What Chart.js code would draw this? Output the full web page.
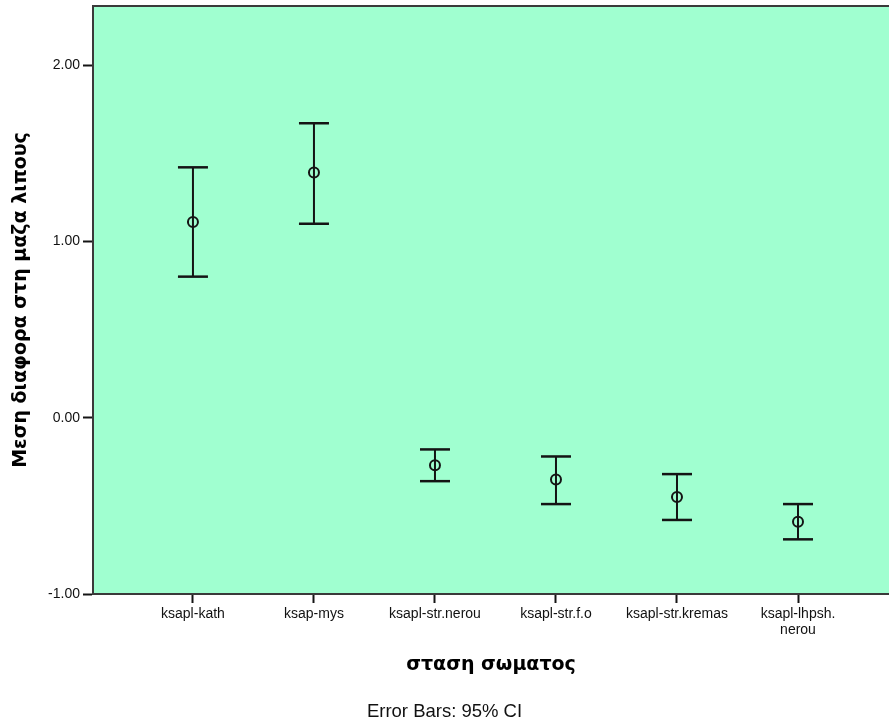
<!DOCTYPE html>
<html>
<head>
<meta charset="utf-8">
<script src="https://cdn.jsdelivr.net/npm/chart.js@4.4.0/dist/chart.umd.min.js"></script>
<style>
  html, body { margin: 0; padding: 0; background: #ffffff; }
  #wrap { width: 889px; height: 724px; }
</style>
</head>
<body>
<div id="wrap"><canvas id="c" width="889" height="724"></canvas></div>
<script>
// Body posture groups (last label wraps onto two lines)
const categories = [
  'ksapl-kath',
  'ksap-mys',
  'ksapl-str.nerou',
  'ksapl-str.f.o',
  'ksapl-str.kremas',
  ['ksapl-lhpsh.', 'nerou']
];
// Mean difference in fat mass and its 95% confidence interval
const means   = [1.11, 1.39, -0.27, -0.35, -0.45, -0.59];
const lowerCI = [0.80, 1.10, -0.36, -0.49, -0.58, -0.69];
const upperCI = [1.42, 1.67, -0.18, -0.22, -0.32, -0.49];
const yTickValues = [-1, 0, 1, 2];

const xPositions = categories.map((_, i) => i + 1);

// Vertical whiskers: low -> high, separated by gaps
const whiskerPoints = [];
xPositions.forEach((x, i) => {
  whiskerPoints.push({ x, y: lowerCI[i] }, { x, y: upperCI[i] }, { x, y: null });
});
const capPoints = [];
xPositions.forEach((x, i) => {
  capPoints.push({ x, y: lowerCI[i] }, { x, y: upperCI[i] });
});
const meanPoints = xPositions.map((x, i) => ({ x, y: means[i] }));

const INK = '#141414';
const AXIS = '#3a3a3a';
const FONT = "'Liberation Sans', Arial, sans-serif";
const TITLE_FONT = "'DejaVu Sans', Verdana, sans-serif";

const plotBackground = {
  id: 'plotBackground',
  beforeDraw(chart) {
    const { ctx, chartArea: a } = chart;
    ctx.save();
    ctx.fillStyle = '#ffffff';
    ctx.fillRect(0, 0, chart.width, chart.height);
    ctx.fillStyle = 'rgb(160,255,208)';
    ctx.fillRect(a.left, a.top, a.right - a.left, a.bottom - a.top);
    ctx.restore();
  },
  afterDraw(chart) {
    const { ctx, chartArea: a } = chart;
    ctx.save();
    ctx.strokeStyle = AXIS;
    ctx.lineWidth = 2;
    ctx.beginPath();
    ctx.moveTo(a.left, a.top);
    ctx.lineTo(a.right, a.top);
    ctx.stroke();
    ctx.restore();
  }
};

new Chart(document.getElementById('c'), {
  type: 'scatter',
  data: {
    datasets: [
      {
        label: 'CI',
        data: whiskerPoints,
        showLine: true,
        spanGaps: false,
        borderColor: INK,
        borderWidth: 2,
        pointRadius: 0,
        order: 3
      },
      {
        label: 'caps',
        data: capPoints,
        showLine: false,
        pointStyle: 'line',
        pointRadius: 15,
        pointBorderWidth: 2.5,
        borderColor: INK,
        pointBorderColor: INK,
        order: 2
      },
      {
        label: 'mean',
        data: meanPoints,
        showLine: false,
        pointStyle: 'circle',
        pointRadius: 5,
        pointBorderWidth: 2,
        pointBorderColor: INK,
        pointBackgroundColor: 'rgba(0,0,0,0)',
        order: 1
      }
    ]
  },
  options: {
    responsive: false,
    animation: false,
    devicePixelRatio: 1,
    layout: { autoPadding: false, padding: { top: 6, right: 0, bottom: 0, left: 0 } },
    plugins: {
      legend: { display: false },
      tooltip: { enabled: false },
      title: {
        display: true,
        text: 'Error Bars: 95% CI',
        position: 'bottom',
        color: '#111',
        font: { family: FONT, size: 18.5, weight: 'normal', lineHeight: 1.2 },
        padding: { top: 6.9, bottom: 0.9 }
      }
    },
    scales: {
      x: {
        type: 'linear',
        min: 0.174,
        max: 6.752,
        afterFit(s) {
          s.height = 100;
          s.paddingLeft = 0;
          s.paddingRight = 0;
        },
        afterBuildTicks(s) { s.ticks = xPositions.map(v => ({ value: v })); },
        border: { display: true, color: AXIS, width: 2 },
        grid: { display: true, drawOnChartArea: false, drawTicks: true, tickLength: 9, tickColor: INK, tickWidth: 2 },
        ticks: {
          autoSkip: false,
          maxRotation: 0,
          padding: 3,
          color: '#111',
          font: { family: FONT, size: 14, lineHeight: 1.15 },
          callback: v => categories[Math.round(v) - 1]
        },
        title: {
          display: true,
          text: 'σταση σωματος',
          color: '#000',
          font: { family: TITLE_FONT, size: 19, weight: 'bold', lineHeight: 1.2 },
          padding: { top: 0, bottom: 17.6 }
        }
      },
      y: {
        type: 'linear',
        min: -1,
        max: 2.335,
        afterFit(s) {
          s.width = 93;
          s.paddingTop = 0;
          s.paddingBottom = 0;
        },
        afterBuildTicks(s) { s.ticks = yTickValues.map(v => ({ value: v })); },
        border: { display: true, color: AXIS, width: 2 },
        grid: { display: true, drawOnChartArea: false, drawTicks: true, tickLength: 10, tickColor: INK, tickWidth: 2 },
        ticks: {
          padding: 3,
          color: '#111',
          font: { family: FONT, size: 14 },
          callback: v => Number(v).toFixed(2)
        },
        title: {
          display: true,
          text: 'Μεση διαφορα στη μαζα λιπους',
          color: '#000',
          font: { family: TITLE_FONT, size: 19, weight: 'bold', lineHeight: 1.2 },
          padding: { top: 9.6, bottom: 0 }
        }
      }
    }
  },
  plugins: [plotBackground]
});
</script>
</body>
</html>
